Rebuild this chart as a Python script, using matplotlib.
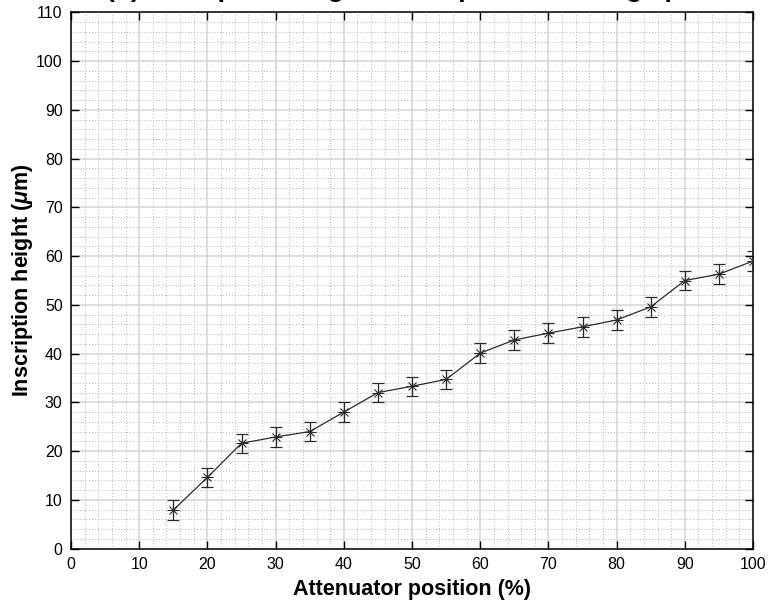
import matplotlib
matplotlib.use("Agg")
import matplotlib.pyplot as plt
from matplotlib.ticker import MultipleLocator

plt.rcParams['font.family'] = ['Liberation Sans', 'DejaVu Sans']
plt.rcParams['mathtext.fontset'] = 'custom'
plt.rcParams['mathtext.it'] = 'Liberation Sans:italic:bold'
plt.rcParams['mathtext.rm'] = 'Liberation Sans:bold'

# Attenuator setting (%) and measured inscription height (um) with error
attenuator = [15, 20, 25, 30, 35, 40, 45, 50, 55, 60, 65, 70, 75, 80, 85, 90, 95, 100]
height = [7.9, 14.6, 21.6, 22.9, 24.0, 28.0, 32.0, 33.3, 34.7, 40.1, 42.8, 44.2, 45.5, 46.9, 49.6, 55.0, 56.3, 59.0]
height_err = [2.0, 2.0, 2.0, 2.0, 2.0, 2.0, 2.0, 2.0, 2.0, 2.0, 2.0, 2.0, 2.0, 2.0, 2.0, 2.0, 2.0, 2.0]

x_ticks = list(range(0, 101, 10))
y_ticks = list(range(0, 111, 10))

title_text = "(b) Inscription height at 100 \u00b5m/s scanning speed"

fig = plt.figure(figsize=(7.71, 6.09), dpi=100)
ax = fig.add_axes([0.0921, 0.0993, 0.8846, 0.8802])

line_col = '#2b2b2b'
ax.errorbar(attenuator, height, yerr=height_err, color=line_col, linewidth=0.9,
            elinewidth=0.9, capsize=4, capthick=0.9, fmt='-', zorder=3)
# asterisk marker built from a plus and a cross
ax.plot(attenuator, height, linestyle='none', marker='+', markersize=8,
        markeredgewidth=0.8, color=line_col, zorder=4)
ax.plot(attenuator, height, linestyle='none', marker='x', markersize=6,
        markeredgewidth=0.8, color=line_col, zorder=4)

ax.set_xlim(0, 100)
ax.set_ylim(0, 110)
ax.set_xticks(x_ticks)
ax.set_yticks(y_ticks)
ax.xaxis.set_minor_locator(MultipleLocator(2))
ax.yaxis.set_minor_locator(MultipleLocator(2))

ax.grid(which='major', color='#d4d4d4', linestyle='-', linewidth=1.1, zorder=0)
ax.grid(which='minor', color='#b3b3b3', linestyle=(0, (1, 2)), linewidth=0.7, zorder=0)
ax.set_axisbelow(True)

ax.tick_params(which='major', direction='in', length=6, width=1.0,
               top=True, right=True, labelsize=11.5, pad=6, colors='black')
ax.tick_params(which='minor', length=0, top=True, right=True)
for s in ax.spines.values():
    s.set_linewidth(1.1)
    s.set_color('black')

ax.set_xlabel("Attenuator position (%)", fontsize=15.5, fontweight='bold', labelpad=5)
ax.set_ylabel(r"Inscription height ($\mu$m)", fontsize=15.5, fontweight='bold', labelpad=1)

# title sits above the top edge; only its descenders reach into the canvas
fig.text(0.54, 1 + 2.5 / 609, title_text, ha='center', va='baseline',
         fontsize=19, fontweight='bold')

fig.savefig("out.png", dpi=100)
